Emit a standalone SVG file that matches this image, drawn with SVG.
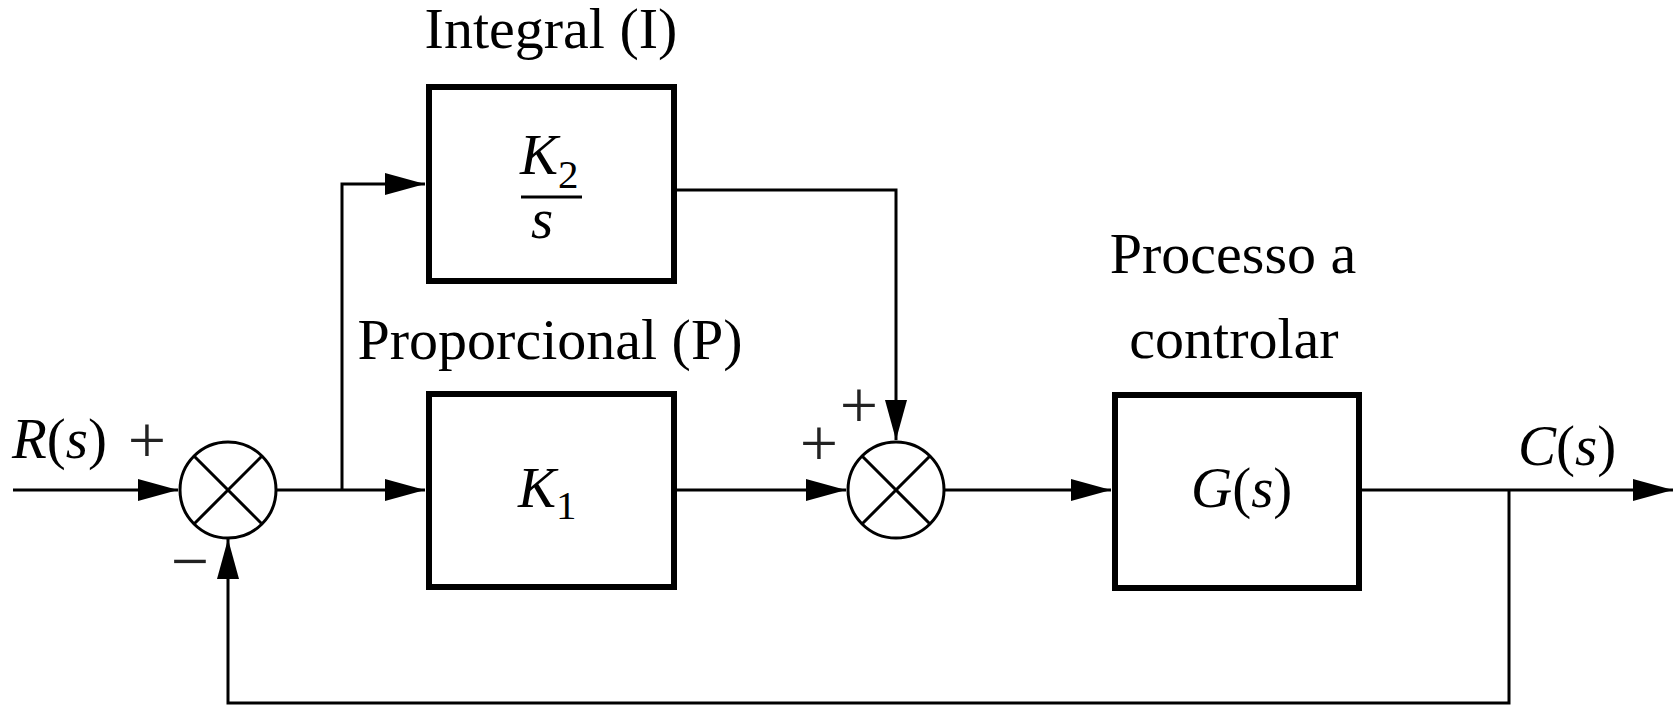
<svg xmlns="http://www.w3.org/2000/svg" width="1676" height="705" viewBox="0 0 1676 705">
<style>
.lbl{font-family:"Liberation Serif","Times New Roman",serif;font-size:58px;fill:#000}
.m{font-family:"Liberation Serif","Times New Roman",serif;font-size:57px;fill:#000}
.i{font-style:italic}
.sub{font-size:41px}
.sg{font-family:"Liberation Serif","Times New Roman",serif;font-size:68px;fill:#222;text-anchor:middle}
.box{fill:#fff;stroke:#000;stroke-width:6}
.sum{fill:#fff;stroke:#000;stroke-width:3}
.wire{fill:none;stroke:#000;stroke-width:3}
</style>
<defs>
<marker id="ah" viewBox="0 0 40 22" refX="40" refY="11" markerWidth="40" markerHeight="22" markerUnits="userSpaceOnUse" orient="auto">
<path d="M0,0 L40,11 L0,22 z" fill="#000"/>
</marker>
</defs>
<rect width="1676" height="705" fill="#fff"/>

<g id="connectors">
<path class="wire" d="M13,490 H178" marker-end="url(#ah)"/>
<path class="wire" d="M277,490 H425" marker-end="url(#ah)"/>
<path class="wire" d="M342,490 V184 H425" marker-end="url(#ah)"/>
<path class="wire" d="M677,190 H896 V440" marker-end="url(#ah)"/>
<path class="wire" d="M677,490 H846" marker-end="url(#ah)"/>
<path class="wire" d="M945,490 H1111" marker-end="url(#ah)"/>
<path class="wire" d="M1362,490 H1673" marker-end="url(#ah)"/>
<path class="wire" d="M1509,490 V703 H228 V539" marker-end="url(#ah)"/>
</g>

<g id="sum1">
<circle class="sum" cx="228" cy="490" r="48"/>
<path class="wire" d="M194,456 L262,524 M262,456 L194,524"/>
<text class="sg" x="147" y="463">+</text>
<text class="sg" x="190" y="584">−</text>
</g>

<g id="sum2">
<circle class="sum" cx="896" cy="490" r="48"/>
<path class="wire" d="M862,456 L930,524 M930,456 L862,524"/>
<text class="sg" x="859" y="428">+</text>
<text class="sg" x="819" y="466">+</text>
</g>

<g id="integral">
<text class="lbl" x="551" y="48" text-anchor="middle">Integral (I)</text>
<rect class="box" x="429" y="87" width="245" height="194"/>
<text class="m" x="520" y="174"><tspan class="i">K</tspan><tspan class="sub" dy="14">2</tspan></text>
<line x1="521" y1="197" x2="582" y2="197" stroke="#000" stroke-width="3"/>
<text class="m i" x="531" y="238">s</text>
</g>

<g id="proporcional">
<text class="lbl" x="550" y="359" text-anchor="middle">Proporcional (P)</text>
<rect class="box" x="429" y="394" width="245" height="193"/>
<text class="m" x="518" y="507"><tspan class="i">K</tspan><tspan class="sub" dy="12">1</tspan></text>
</g>

<g id="processo">
<text class="lbl" x="1233" y="273" text-anchor="middle">Processo a</text>
<text class="lbl" x="1234" y="358" text-anchor="middle">controlar</text>
<rect class="box" x="1115" y="395" width="244" height="193"/>
<text class="m" x="1191" y="507"><tspan class="i">G</tspan>(<tspan class="i">s</tspan>)</text>
</g>

<g id="input">
<text class="m" x="12" y="458"><tspan class="i">R</tspan>(<tspan class="i">s</tspan>)</text>
</g>

<g id="output">
<text class="m" x="1518" y="465"><tspan class="i">C</tspan>(<tspan class="i">s</tspan>)</text>
</g>
</svg>
